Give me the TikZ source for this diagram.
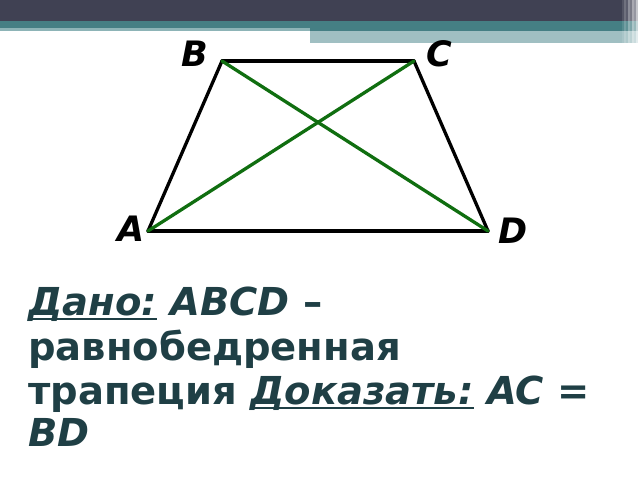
\documentclass[tikz,border=0pt]{standalone}
\usepackage{fontspec}
\setmainfont{DejaVu Sans}
\definecolor{barcol}{HTML}{404153}
\definecolor{tealcol}{HTML}{457F84}
\definecolor{lightcol}{HTML}{A0BFC2}
\definecolor{fadecol}{HTML}{8DB4B7}
\definecolor{txtcol}{HTML}{1F3F45}
\definecolor{diagcol}{RGB}{16,110,16}
\newcommand\myul[1]{\setbox0\hbox{#1}\rlap{\rule[-5pt]{\wd0}{2.2pt}}\box0\relax}
\tikzset{
  side/.style={draw=black, line width=3.3pt, line cap=round},
  diag/.style={draw=diagcol, line width=3.3pt, line cap=round},
  lbl/.style={inner sep=0pt, font=\fontsize{35}{40}\selectfont\bfseries\itshape, text=black},
  txt/.style={inner sep=0pt, anchor=base west, font=\fontsize{38.5}{44}\selectfont\bfseries, text=txtcol},
}
\begin{document}
\begin{tikzpicture}[x=1pt,y=-1pt]
\useasboundingbox (0,0) rectangle (640,480);
% banner
\fill[barcol] (0,0) rectangle (622,21);
\fill[tealcol] (0,21) rectangle (622,28);
\fill[fadecol] (0,28) rectangle (310,31);
\fill[tealcol] (310,28) rectangle (622,31);
\fill[lightcol] (310,31) rectangle (622,43);
\foreach \i/\op in {0/0.9,1/0.75,2/0.85,3/0.6,4/0.7,5/0.45,6/0.55,7/0.3}{
  \fill[barcol, opacity=\op] (622+2*\i,0) rectangle (624+2*\i,21);
  \fill[tealcol, opacity=\op] (622+2*\i,21) rectangle (624+2*\i,31);
  \fill[lightcol, opacity=\op] (622+2*\i,31) rectangle (624+2*\i,43);
}
% trapezoid
\coordinate (A) at (148,231);
\coordinate (B) at (222,61);
\coordinate (C) at (414,61);
\coordinate (D) at (488,231);
\draw[side] (A) -- (B);
\draw[side] (B) -- (C);
\draw[side] (C) -- (D);
\draw[side] (D) -- (A);
\draw[diag] (A) -- (C);
\draw[diag] (B) -- (D);
\node[lbl, anchor=base] (lB) at (195,66.7) {B};
\node[lbl, anchor=base] (lC) at (439,66.7) {C};
\node[lbl, anchor=base] (lA) at (131,241.7) {A};
\node[lbl, anchor=base] (lD) at (513,243.3) {D};
% text
\node[txt] (t1) at (28,315) {\myul{\itshape Дано:} \textit{ABCD} –};
\node[txt] (t2) at (28,360) {равнобедренная};
\node[txt] (t3) at (28,404) {трапеция \myul{\itshape Доказать:} \textit{AC} =};
\node[txt] (t4) at (28,446) {\textit{BD}};
\end{tikzpicture}
\end{document}
